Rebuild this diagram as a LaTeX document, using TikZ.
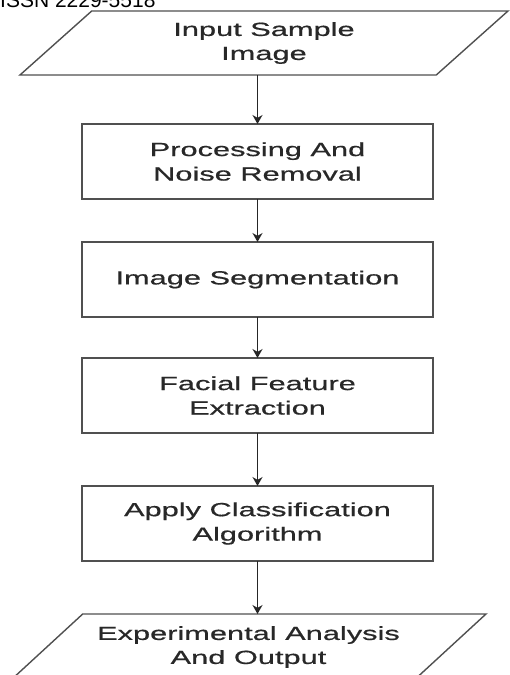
\documentclass[tikz,border=0pt]{standalone}
\usepackage{fontspec}
\setmainfont{Liberation Sans}
\newfontfamily\wideboxfont{Liberation Sans}[FakeStretch=1.62,FakeBold=0.6]
\usepackage{tikz}
\definecolor{linegray}{RGB}{80,80,80}
\definecolor{textgray}{RGB}{40,40,40}
\usetikzlibrary{positioning}
\usetikzlibrary{shapes}
\usetikzlibrary{arrows.meta}
\tikzset{flowArrow/.style={->,>={Stealth[length=9pt,width=10pt]},draw=black!85,line width=1.3pt}}

\begin{document}
\begin{tikzpicture}[stepBox/.style={rectangle,draw=linegray,fill=white,line width=1.4pt,minimum width=351pt,minimum height=75pt,outer sep=0pt,align=center,text=textgray,font=\wideboxfont\fontsize{19}{24.5}\selectfont},
	ioBox/.style={trapezium,trapezium left angle=34,trapezium right angle=146,trapezium stretches body=true,draw=linegray,fill=white,line width=1.4pt,minimum height=64pt,outer sep=0pt,align=center,text=textgray,font=\wideboxfont\fontsize{19}{24}\selectfont}]
	\useasboundingbox (0pt,0pt) rectangle (509pt,-675pt);
	\node[anchor=base west,inner sep=0pt,font=\fontsize{21}{24}\selectfont] (issn) at (0pt,-7.5pt) {ISSN 2229-5518};
	\node[stepBox] (proc) at (257.5pt,-161.5pt) {Processing And\\Noise Removal};
	\node[ioBox,minimum width=488pt,above=49pt of proc,xshift=6.5pt] (input) {Input Sample\\Image};
	\node[stepBox,below=43pt of proc] (seg) {Image Segmentation};
	\node[stepBox,below=41pt of seg] (feat) {Facial Feature\\Extraction};
	\node[stepBox,below=53pt of feat] (classify) {Apply Classification\\Algorithm};
	\node[ioBox,minimum width=475pt,minimum height=66pt,below=53pt of classify,xshift=-9pt] (output) {Experimental Analysis\\And Output};
	\draw[flowArrow] (proc.north |- input.south) -- (proc.north);
	\draw[flowArrow] (proc.south) -- (seg.north);
	\draw[flowArrow] (seg.south) -- (feat.north);
	\draw[flowArrow] (feat.south) -- (classify.north);
	\draw[flowArrow] (classify.south) -- (classify.south |- output.north);
\end{tikzpicture}
\end{document}
